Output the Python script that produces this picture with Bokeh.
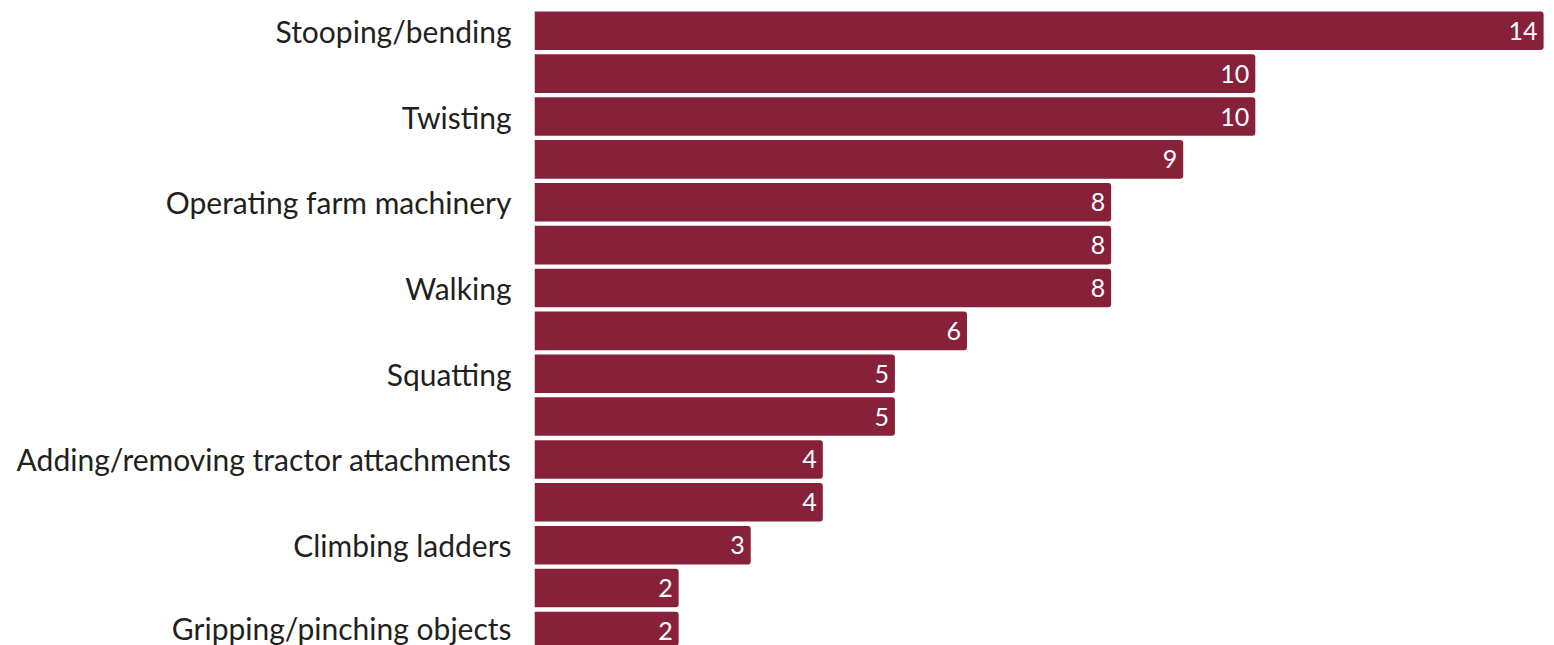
from bokeh.plotting import figure
from bokeh.models import ColumnDataSource, FixedTicker, Range1d
from bokeh.core.properties import value
from bokeh.embed import file_html
from bokeh.resources import INLINE

# Data (top to bottom); only every other category is labelled in the reference
categories = [
    "Stooping/bending", "", "Twisting", "", "Operating farm machinery", "",
    "Walking", "", "Squatting", "", "Adding/removing tractor attachments", "",
    "Climbing ladders", "", "Gripping/pinching objects",
]
values = [14, 10, 10, 9, 8, 8, 8, 6, 5, 5, 4, 4, 3, 2, 2]

positions = list(range(len(values)))
source = ColumnDataSource(dict(
    y=positions,
    v=values,
    lbl=[str(x) for x in values],
))

BAR = "#87213A"
FONT = "Lato"

p = figure(
    width=1546, height=645,
    output_backend="svg", toolbar_location=None,
    x_range=Range1d(0, 14.04), y_range=Range1d(14.34, -0.706),
    min_border_left=534, min_border_right=0, min_border_top=0, min_border_bottom=0,
)
p.outline_line_color = None
p.background_fill_color = "white"
p.border_fill_color = "white"
p.grid.visible = False
p.xaxis.visible = False

p.hbar(y="y", right="v", left=0, height=0.9, source=source,
       fill_color=BAR, line_color=None, border_radius=(0, 3, 3, 0))

p.text(x="v", y="y", text="lbl", source=source, x_offset=-6,
       text_align="right", text_baseline="middle", text_color="white",
       text_font=value(FONT), text_font_size="25px")

ya = p.yaxis[0]
ya.ticker = FixedTicker(ticks=[i for i, c in enumerate(categories) if c])
ya.major_label_overrides = {i: c for i, c in enumerate(categories) if c}
ya.axis_line_color = None
ya.major_tick_line_color = None
ya.minor_tick_line_color = None
ya.major_tick_out = 0
ya.major_tick_in = 0
ya.major_label_standoff = 23
ya.major_label_text_font = FONT
ya.major_label_text_font_size = "30px"
ya.major_label_text_color = "#231F20"

open("out.html", "w").write(file_html(p, INLINE))
